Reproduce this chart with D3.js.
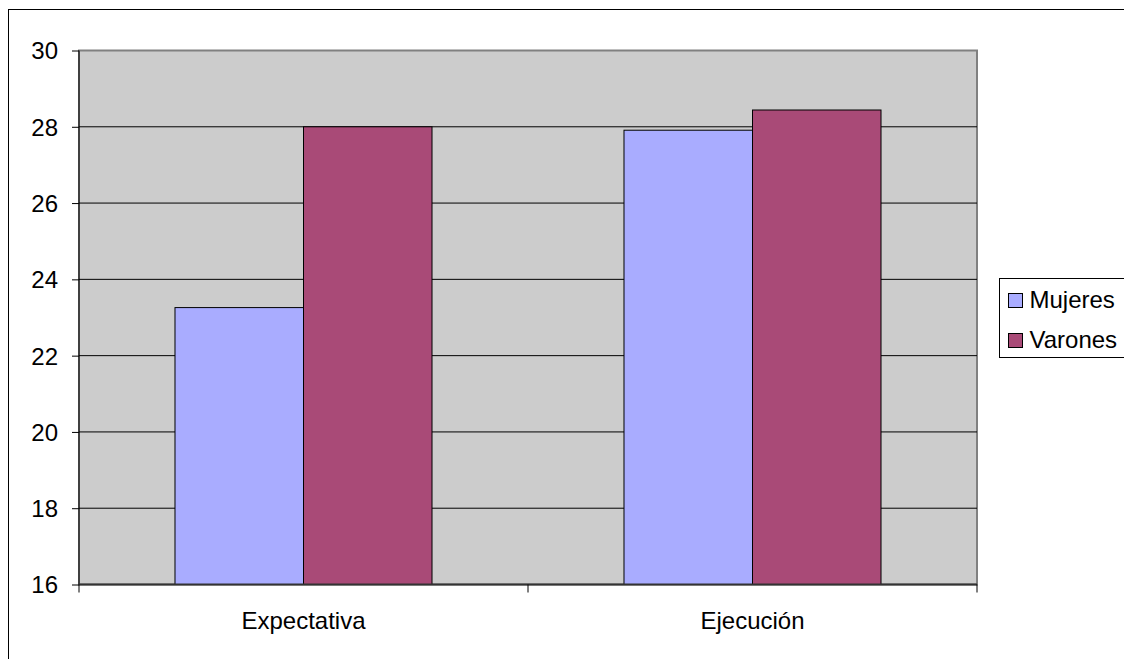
<!DOCTYPE html>
<html>
<head>
<meta charset="utf-8">
<script src="https://cdn.jsdelivr.net/npm/d3@7"></script>
<style>
  body { margin: 0; background: #fff; }
  svg { display: block; }
  svg text { font-family: "Liberation Sans", Arial, sans-serif; }
</style>
</head>
<body>
<div class="canva"></div>
<script>
const categories = ["Expectativa", "Ejecución"];
const series = ["Mujeres", "Varones"];
const mujeres = [23.26, 27.91];
const varones = [28.0, 28.44];
const yTicks = [16, 18, 20, 22, 24, 26, 28, 30];
const colors = ["#a9acff", "#a94a77"];

const values = [mujeres, varones];
const fontSize = 24;

const svg = d3.select(".canva").append("svg")
    .attr("width", 1124)
    .attr("height", 659);

// outer frame
svg.append("rect")
    .attr("x", 8.5).attr("y", 9.5)
    .attr("width", 1130).attr("height", 660)
    .attr("fill", "#fff")
    .attr("stroke", "#000")
    .attr("stroke-width", 1);

const plotLeft = 79, plotRight = 977, plotTop = 50.5, plotBottom = 584.5;

const x0 = d3.scaleBand().domain(categories).range([plotLeft, plotRight]);
const x1 = d3.scaleBand().domain(series).range([0, x0.bandwidth()]).paddingOuter(0.747);
const y = d3.scaleLinear().domain([16, 30]).range([plotBottom, plotTop]);

// plot area
svg.append("rect")
    .attr("x", plotLeft).attr("y", plotTop)
    .attr("width", plotRight - plotLeft).attr("height", plotBottom - plotTop)
    .attr("fill", "#cccccc")
    .attr("stroke", "#808080")
    .attr("stroke-width", 2);

// gridlines
svg.append("g").selectAll("line")
    .data(yTicks.filter(d => d > 16 && d < 30))
    .join("line")
    .attr("x1", plotLeft).attr("x2", plotRight)
    .attr("y1", d => y(d)).attr("y2", d => y(d))
    .attr("stroke", "#000")
    .attr("stroke-width", 1);

// bars
categories.forEach((c, i) => {
    svg.append("g").selectAll("rect")
        .data(series.map((s, j) => ({ s: s, v: values[j][i], j: j })))
        .join("rect")
        .attr("x", d => x0(c) + x1(d.s))
        .attr("y", d => y(d.v))
        .attr("width", x1.bandwidth())
        .attr("height", d => y(16) - y(d.v))
        .attr("fill", d => colors[d.j])
        .attr("stroke", "#000")
        .attr("stroke-width", 1);
});

// y axis
const yAxis = d3.axisLeft(y).tickValues(yTicks).tickSize(7).tickPadding(14).tickFormat(d3.format("d"));
const gy = svg.append("g").attr("transform", `translate(${plotLeft},0)`).call(yAxis);
gy.attr("font-size", null).attr("font-family", null);
gy.select(".domain").attr("stroke", "#000").attr("d", `M0,${plotTop}V${plotBottom}`);
gy.selectAll(".tick line").attr("stroke", "#000");
gy.selectAll(".tick text").attr("font-size", fontSize).attr("fill", "#000").attr("dy", "0.35em");

// x axis
const gx = svg.append("g").attr("transform", `translate(0,${plotBottom})`);
gx.append("line").attr("x1", plotLeft).attr("x2", plotRight).attr("stroke", "#333").attr("stroke-width", 2);
gx.selectAll(".sep")
    .data([plotLeft, plotLeft + x0.step(), plotRight])
    .join("line")
    .attr("class", "sep")
    .attr("x1", d => d).attr("x2", d => d)
    .attr("y1", 0).attr("y2", 8)
    .attr("stroke", "#000");
gx.selectAll(".cat")
    .data(categories)
    .join("text")
    .attr("class", "cat")
    .attr("x", d => x0(d) + x0.bandwidth() / 2)
    .attr("y", 44)
    .attr("text-anchor", "middle")
    .attr("font-size", fontSize)
    .attr("fill", "#000")
    .text(d => d);

// legend
const lg = svg.append("g").attr("transform", "translate(999.5,278.5)");
lg.append("rect")
    .attr("width", 140).attr("height", 79)
    .attr("fill", "#fff")
    .attr("stroke", "#000");
series.forEach((s, i) => {
    lg.append("rect")
        .attr("x", 9).attr("y", 15 + i * 40)
        .attr("width", 14).attr("height", 14)
        .attr("fill", colors[i])
        .attr("stroke", "#000");
    lg.append("text")
        .attr("x", 30).attr("y", 29 + i * 40)
        .attr("font-size", fontSize)
        .attr("fill", "#000")
        .text(s);
});
</script>
</body>
</html>
